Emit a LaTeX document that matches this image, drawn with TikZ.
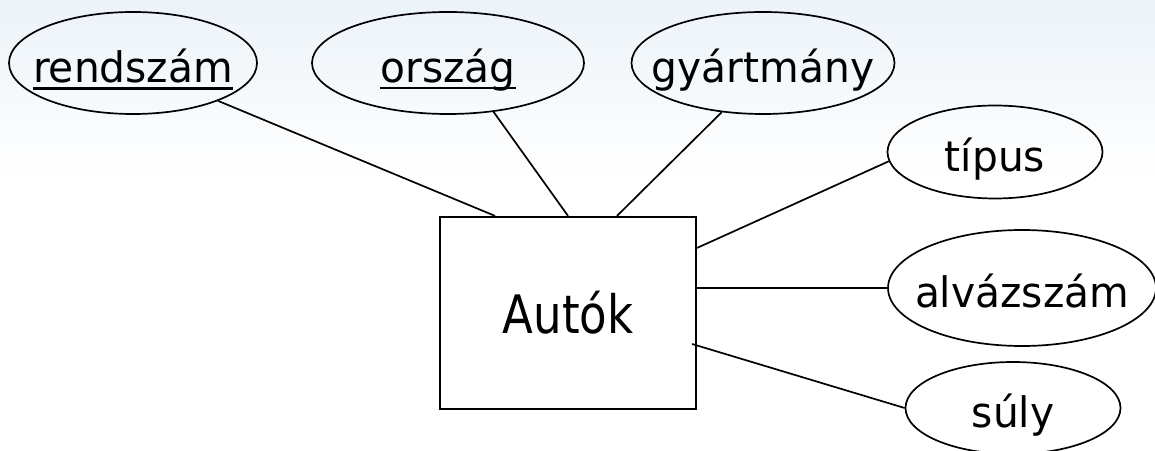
\documentclass[tikz,border=0pt]{standalone}
\usepackage{fontspec}
\setmainfont{DejaVu Sans}[FakeStretch=0.97]
\newfontfamily\entfont{DejaVu Sans}[FakeStretch=0.85]
\usetikzlibrary{shapes.geometric,calc}
\definecolor{bgblue}{RGB}{236,243,249}
\newcommand{\ctext}[1]{\raisebox{-19.5pt}[0pt][0pt]{\makebox[0pt]{#1}}}
\newcommand{\myul}[3]{\setbox0=\hbox{#3}\rlap{\copy0}\rule[#1]{\wd0}{#2}}
\begin{document}
\begin{tikzpicture}[x=1pt,y=1pt,
  attr/.style={ellipse, draw, line width=1.7pt, inner sep=0pt,
    font=\fontsize{42}{50}\selectfont},
  ent/.style={rectangle, draw, line width=2.2pt, fill=white, inner sep=0pt,
    minimum width=256pt, minimum height=192pt,
    font=\entfont\fontsize{53}{60}\selectfont},
  conn/.style={line width=1.7pt}]
\useasboundingbox (0,0) rectangle (1155,450);
\fill[white] (0,0) rectangle (1155,450);
\shade[top color=bgblue, bottom color=white] (0,270) rectangle (1155,450);

\node[ent] (box) at (568,137) {Autók};

\node[attr, minimum width=248pt, minimum height=102pt] (rend) at (133,387)
  {\ctext{\myul{-7.5pt}{3pt}{rendszám}}};
\node[attr, minimum width=272pt, minimum height=102pt] (orsz) at (448,387)
  {\ctext{\myul{-6.8pt}{1.8pt}{ország}}};
\node[attr, minimum width=263pt, minimum height=102pt] (gyar) at (763,387)
  {\ctext{gyártmány}};
\node[attr, minimum width=215pt, minimum height=93pt] (tipus) at (995,298)
  {\ctext{típus}};
\node[attr, minimum width=268pt, minimum height=116pt] (alv) at (1022,162)
  {\ctext{alvázszám}};
\node[attr, minimum width=215pt, minimum height=92pt] (suly) at (1013,42)
  {\ctext{súly}};

\draw[conn] (rend.-24) -- ($(box.north)+(-73,0)$);
\draw[conn] (orsz.-47) -- (box.north);
\draw[conn] (gyar.-130) -- ($(box.north)+(49,0)$);
\draw[conn] (tipus.185) -- ($(box.north east)+(0,-32)$);
\draw[conn] (alv.west) -- (alv.west -| box.east);
\draw[conn] (suly.west) -- ($(box.east)+(-5,-31)$);
\end{tikzpicture}
\end{document}
